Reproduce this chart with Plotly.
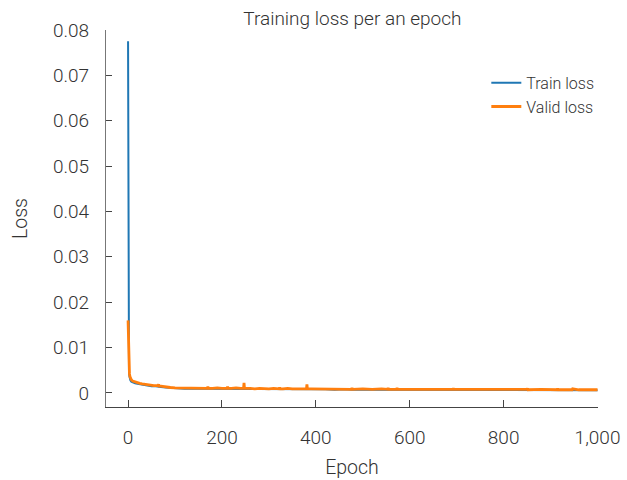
import plotly.graph_objects as go

epochs = [0, 1, 2, 3, 4, 5, 7, 10, 15, 20, 25, 30, 35, 40, 45, 50, 55, 60, 64, 65, 66, 70,
          80, 90, 100, 110, 120, 130, 140, 150, 160, 169, 170, 171, 180, 190, 200, 211, 212,
          213, 220, 230, 240, 246, 247, 248, 260, 270, 280, 290, 300, 310, 322, 323, 324,
          330, 340, 350, 360, 370, 380, 381, 382, 390, 400, 420, 440, 460, 476, 477, 478,
          500, 520, 540, 553, 554, 555, 560, 572, 573, 574, 600, 620, 640, 660, 680, 692,
          693, 694, 720, 740, 760, 780, 800, 820, 840, 850, 851, 852, 880, 900, 914, 915,
          916, 940, 945, 946, 947, 960, 980, 1000]

valid_loss = [0.0160, 0.0090, 0.0055, 0.0042, 0.0036, 0.0032, 0.0029, 0.0026, 0.0024, 0.0022,
              0.0021, 0.0020, 0.0019, 0.0018, 0.0018, 0.0017, 0.0016, 0.0016, 0.0016, 0.0019, 0.0015,
              0.0015, 0.0013, 0.0012, 0.0011, 0.0011, 0.0010, 0.0011, 0.0010, 0.0010, 0.0011,
              0.0010, 0.0014, 0.0010, 0.0010, 0.0011, 0.0010, 0.0010, 0.0014, 0.0010, 0.0010,
              0.0011, 0.0010, 0.0010, 0.0022, 0.0010, 0.0010, 0.0009, 0.0010, 0.0009, 0.0009,
              0.0010, 0.0009, 0.0012, 0.0009, 0.0009, 0.0010, 0.0009, 0.0009, 0.0009, 0.0009,
              0.0019, 0.0009, 0.0009, 0.0009, 0.0009, 0.0008, 0.0009, 0.0008, 0.0011, 0.0008,
              0.0009, 0.0008, 0.0009, 0.0008, 0.0011, 0.0008, 0.0008, 0.0008, 0.0011, 0.0008,
              0.0008, 0.0008, 0.0009, 0.0008, 0.0008, 0.0008, 0.0010, 0.0008, 0.0008, 0.0008,
              0.0008, 0.0008, 0.0008, 0.0008, 0.0008, 0.0008, 0.0010, 0.0007, 0.0008, 0.0008,
              0.0007, 0.0010, 0.0007, 0.0007, 0.0007, 0.0007, 0.0009, 0.0007, 0.0007, 0.0007,
              0.0007]

train_loss = [0.0775, 0.0070, 0.0045, 0.0036, 0.0031, 0.0028, 0.0025, 0.0023, 0.0021, 0.0020,
              0.0019, 0.0018, 0.0017, 0.0016, 0.0016, 0.0015, 0.0015, 0.0014, 0.0014, 0.0014, 0.0014,
              0.0013, 0.0012, 0.0011, 0.0010, 0.0010, 0.0009, 0.0010, 0.0009, 0.0009, 0.0009,
              0.0009, 0.0009, 0.0009, 0.0009, 0.0009, 0.0009, 0.0009, 0.0009, 0.0009, 0.0009,
              0.0009, 0.0009, 0.0009, 0.0009, 0.0009, 0.0008, 0.0008, 0.0008, 0.0008, 0.0008,
              0.0008, 0.0008, 0.0008, 0.0008, 0.0008, 0.0008, 0.0008, 0.0008, 0.0008, 0.0008,
              0.0008, 0.0008, 0.0008, 0.0008, 0.0008, 0.0007, 0.0008, 0.0007, 0.0007, 0.0007,
              0.0007, 0.0007, 0.0007, 0.0007, 0.0007, 0.0007, 0.0007, 0.0007, 0.0007, 0.0007,
              0.0007, 0.0007, 0.0007, 0.0007, 0.0007, 0.0007, 0.0007, 0.0007, 0.0007, 0.0007,
              0.0007, 0.0007, 0.0007, 0.0007, 0.0007, 0.0007, 0.0007, 0.0006, 0.0007, 0.0006,
              0.0006, 0.0006, 0.0006, 0.0006, 0.0006, 0.0006, 0.0006, 0.0006, 0.0006, 0.0006,
              0.0006]

x_ticks = [0, 200, 400, 600, 800, 1000]
y_ticks = [0, 0.01, 0.02, 0.03, 0.04, 0.05, 0.06, 0.07, 0.08]

FONT = "Roboto"
TXT = "#333333"

fig = go.Figure()
fig.add_trace(go.Scatter(x=epochs, y=train_loss, mode="lines", name="Train loss",
                         line=dict(color="#1f77b4", width=2)))
fig.add_trace(go.Scatter(x=epochs, y=valid_loss, mode="lines", name="Valid loss",
                         line=dict(color="#ff7f0e", width=2.8)))

fig.update_layout(
    width=627, height=480,
    margin=dict(l=106, r=29, t=30, b=73, autoexpand=False),
    paper_bgcolor="white", plot_bgcolor="white",
    font=dict(family=FONT, color=TXT, size=19, weight=300),
    title=dict(text="Training loss per an epoch", x=0.562, xanchor="center",
               y=0.962, yanchor="middle", font=dict(size=19, color=TXT, weight=300)),
    showlegend=True,
    legend=dict(x=0.773, y=0.905, xanchor="left", yanchor="top",
                bgcolor="rgba(0,0,0,0)", font=dict(size=16, color=TXT, weight=300),
                tracegroupgap=0, itemwidth=30),
)
fig.update_xaxes(
    range=[-47, 1001], tickvals=x_ticks, tickformat=",", automargin=False,
    ticks="inside", ticklen=7, tickcolor="#444", tickwidth=1.2,
    showline=True, linecolor="#444", linewidth=1.2, mirror=False,
    showgrid=False, zeroline=False, ticklabelstandoff=13,
    title=dict(text="Epoch", font=dict(size=19.5, color=TXT, weight=300), standoff=12),
    tickfont=dict(size=19, color=TXT, weight=300),
)
fig.update_yaxes(
    range=[-0.0031, 0.08], tickvals=y_ticks, tickformat="", automargin=False,
    ticks="inside", ticklen=6, tickcolor="#444", tickwidth=1.2,
    showline=True, linecolor="#777", linewidth=1.2,
    showgrid=False, zeroline=False, ticklabelstandoff=12,
    title=dict(text="Loss", font=dict(size=19.5, color=TXT, weight=300), standoff=20),
    tickfont=dict(size=19, color=TXT, weight=300),
)

fig.write_html("out.html")
